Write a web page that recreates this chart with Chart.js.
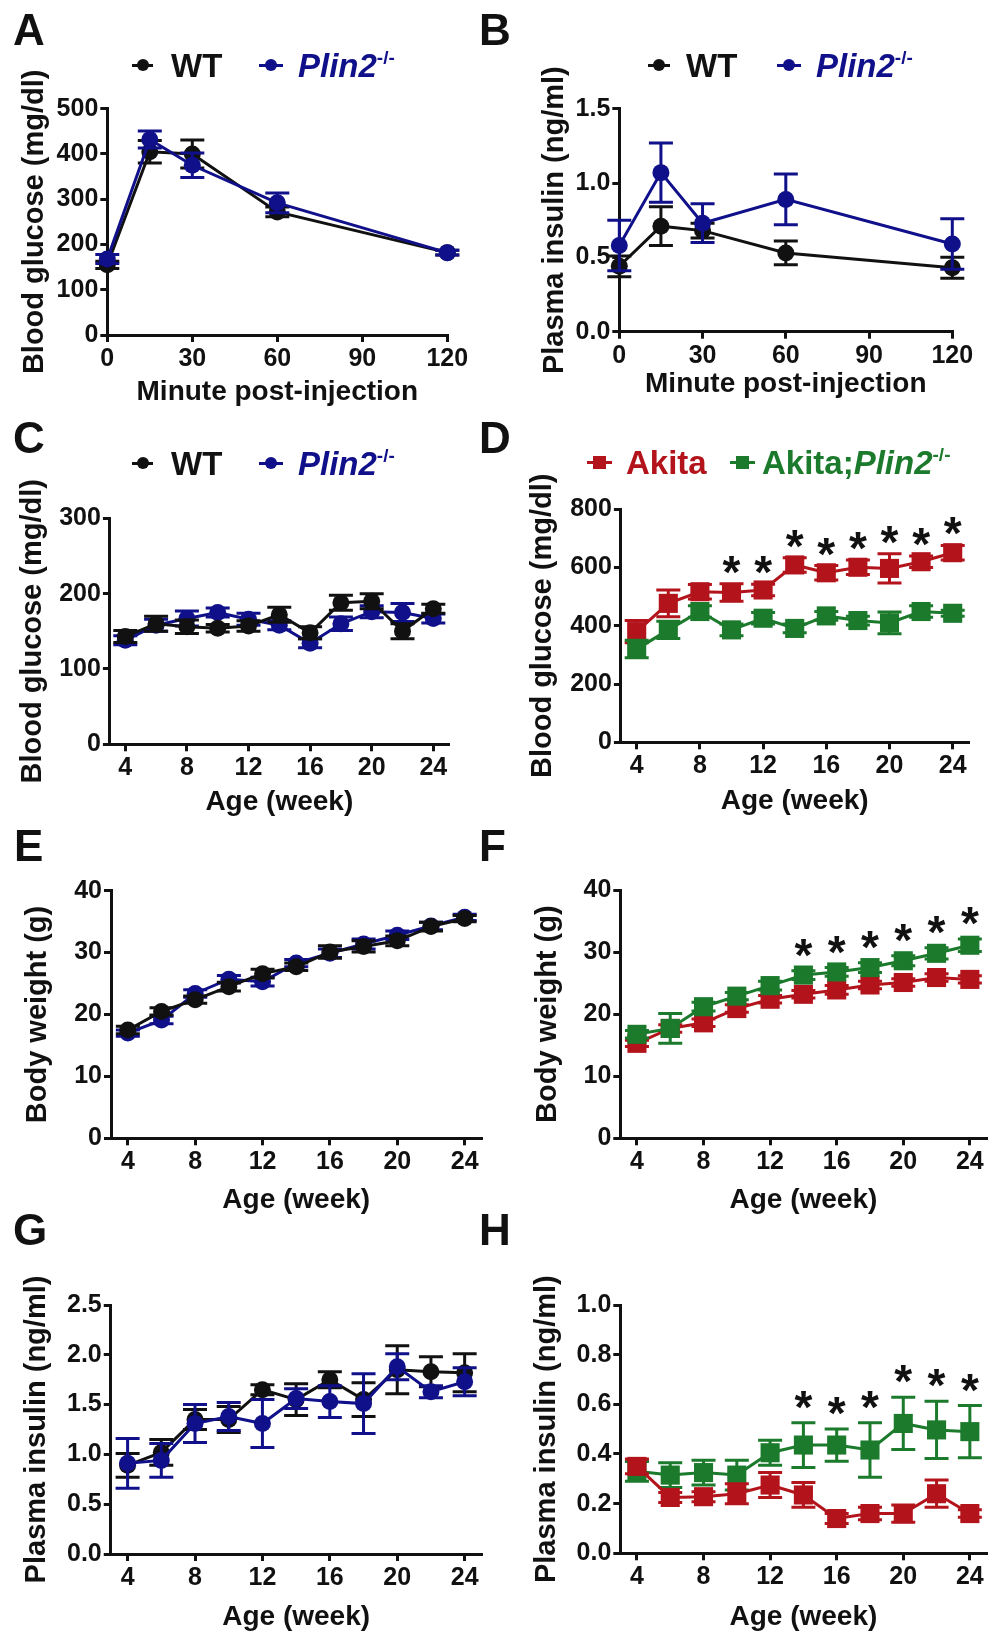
<!DOCTYPE html>
<html>
<head>
<meta charset="utf-8">
<script src="https://cdn.jsdelivr.net/npm/chart.js@4.4.1/dist/chart.umd.min.js"></script>
<style>
  body { margin: 0; background: #fff; }
  #fig { position: relative; width: 1000px; height: 1633px; overflow: hidden;
         font-family: "Liberation Sans", Arial, sans-serif; font-weight: bold; color: #111; }
  canvas { position: absolute; }
  .tag { position: absolute; font-size: 44px; line-height: 44px; }
  .lg { position: absolute; font-size: 33px; line-height: 32px; white-space: nowrap; }
  .lg sup { font-size: 19px; vertical-align: 13px; line-height: 0; }
  .mk { position: absolute; height: 3px; margin-top: -1.5px; background: var(--c); }
  .mk::after { content: ''; position: absolute; left: calc(50% - 6px); top: -4.5px;
               width: 12px; height: 12px; border-radius: 50%; background: var(--c); }
  .mk.sq::after { border-radius: 0; width: 13px; height: 13px; left: calc(50% - 6.5px); top: -5px; }
</style>
</head>
<body>
<div id="fig">
  <canvas id="cA"></canvas><canvas id="cB"></canvas>
  <canvas id="cC"></canvas><canvas id="cD"></canvas>
  <canvas id="cE"></canvas><canvas id="cF"></canvas>
  <canvas id="cG"></canvas><canvas id="cH"></canvas>

  <div class="tag" style="left:13px;top:8px">A</div>
  <div class="tag" style="left:479px;top:8px">B</div>
  <div class="tag" style="left:13px;top:416px">C</div>
  <div class="tag" style="left:479px;top:416px">D</div>
  <div class="tag" style="left:14px;top:824px">E</div>
  <div class="tag" style="left:479px;top:824px">F</div>
  <div class="tag" style="left:13px;top:1208px">G</div>
  <div class="tag" style="left:479px;top:1208px">H</div>

  <!-- legends A, B, C -->
  <div class="mk" style="left:132px;width:21px;top:65px;--c:#111"></div>
  <div class="lg" style="left:171px;top:50px">WT</div>
  <div class="mk" style="left:259px;width:24px;top:65px;--c:#10108a"></div>
  <div class="lg" style="left:298px;top:50px;color:#10108a"><i>Plin2</i><sup>-/-</sup></div>

  <div class="mk" style="left:648px;width:22px;top:65px;--c:#111"></div>
  <div class="lg" style="left:686px;top:50px">WT</div>
  <div class="mk" style="left:777px;width:24px;top:65px;--c:#10108a"></div>
  <div class="lg" style="left:816px;top:50px;color:#10108a"><i>Plin2</i><sup>-/-</sup></div>

  <div class="mk" style="left:132px;width:21px;top:463px;--c:#111"></div>
  <div class="lg" style="left:171px;top:448px">WT</div>
  <div class="mk" style="left:259px;width:24px;top:463px;--c:#10108a"></div>
  <div class="lg" style="left:298px;top:448px;color:#10108a"><i>Plin2</i><sup>-/-</sup></div>

  <!-- legend D -->
  <div class="mk sq" style="left:587px;width:25px;top:462px;--c:#b3141c"></div>
  <div class="lg" style="left:626px;top:447px;color:#b3141c">Akita</div>
  <div class="mk sq" style="left:730px;width:25px;top:462px;--c:#1b7a2b"></div>
  <div class="lg" style="left:762px;top:447px;color:#1b7a2b">Akita;<i>Plin2</i><sup>-/-</sup></div>
</div>

<script>
// x values
const minutes = [0, 15, 30, 60, 120];
const weeks = [4, 6, 8, 10, 12, 14, 16, 18, 20, 22, 24];

// tick labels
const minuteTicks = [0, 30, 60, 90, 120];
const weekTicks = [4, 8, 12, 16, 20, 24];
const aTicks = [0, 100, 200, 300, 400, 500];
const bTicks = [0, 0.5, 1.0, 1.5];
const cTicks = [0, 100, 200, 300];
const dTicks = [0, 200, 400, 600, 800];
const efTicks = [0, 10, 20, 30, 40];
const gTicks = [0, 0.5, 1.0, 1.5, 2.0, 2.5];
const hTicks = [0, 0.2, 0.4, 0.6, 0.8, 1.0];

// A: blood glucose, glucose tolerance test
const aWT = [155, 405, 400, 272, 182];
const aWTErr = [8, 25, 31, 11, 5];
const aKO = [168, 432, 375, 292, 182];
const aKOErr = [10, 19, 27, 22, 5];

// B: plasma insulin after injection
const bWT = [0.44, 0.71, 0.68, 0.53, 0.43];
const bWTErr = [0.07, 0.13, 0.05, 0.08, 0.07];
const bKO = [0.58, 1.07, 0.73, 0.89, 0.59];
const bKOErr = [0.17, 0.2, 0.13, 0.17, 0.17];

// C: blood glucose by age
const cWT = [143, 160, 156, 154, 157, 172, 148, 188, 190, 150, 180];
const cWTErr = [8, 10, 9, 5, 7, 10, 8, 10, 10, 10, 6];
const cKO = [138, 158, 167, 175, 166, 158, 134, 160, 176, 175, 167];
const cKOErr = [6, 8, 10, 6, 8, 6, 6, 9, 8, 12, 6];

// D: blood glucose, Akita lines
const dAk = [380, 477, 517, 514, 523, 609, 582, 601, 597, 620, 651];
const dAkErr = [38, 46, 25, 30, 20, 25, 25, 25, 50, 20, 25];
const dDbl = [320, 386, 449, 386, 426, 391, 434, 418, 410, 449, 443];
const dDblErr = [30, 30, 20, 20, 20, 15, 15, 15, 37, 20, 10];
const dStars = [10, 12, 14, 16, 18, 20, 22, 24];

// E: body weight
const eWT = [17.5, 20.5, 22.4, 24.5, 26.6, 27.7, 30.1, 31.0, 31.9, 34.2, 35.5];
const eWTErr = [0.6, 0.6, 0.6, 0.7, 0.7, 0.6, 1.0, 0.9, 0.8, 0.7, 0.5];
const eKO = [17.0, 19.1, 23.4, 25.7, 25.3, 28.3, 29.9, 31.4, 32.8, 34.3, 35.7];
const eKOErr = [0.5, 0.6, 0.6, 0.6, 0.7, 0.6, 0.7, 0.8, 0.7, 0.6, 0.5];

// F: body weight, Akita lines
const fAk = [15.3, 17.7, 18.6, 20.9, 22.4, 23.2, 23.9, 24.7, 25.1, 25.9, 25.6];
const fAkErr = [0.5, 0.6, 0.6, 0.6, 0.6, 0.6, 0.7, 0.6, 0.6, 0.6, 0.6];
const fDbl = [16.75, 17.7, 21.2, 22.9, 24.6, 26.3, 26.8, 27.5, 28.6, 29.8, 31.1];
const fDblErr = [0.6, 2.4, 0.7, 0.6, 0.7, 0.7, 0.7, 0.8, 0.8, 0.9, 1.0];
const fStars = [14, 16, 18, 20, 22, 24];

// G: plasma insulin by age
const gWT = [0.89, 1.02, 1.35, 1.35, 1.65, 1.55, 1.75, 1.55, 1.85, 1.83, 1.82];
const gWTErr = [0.12, 0.13, 0.1, 0.13, 0.05, 0.16, 0.08, 0.17, 0.24, 0.15, 0.19];
const gKO = [0.91, 0.94, 1.31, 1.38, 1.31, 1.56, 1.53, 1.51, 1.88, 1.63, 1.73];
const gKOErr = [0.25, 0.17, 0.19, 0.14, 0.24, 0.1, 0.16, 0.3, 0.13, 0.06, 0.14];

// H: plasma insulin, Akita lines
const hAk = [0.35, 0.225, 0.228, 0.24, 0.275, 0.235, 0.14, 0.16, 0.16, 0.24, 0.16];
const hAkErr = [0.03, 0.02, 0.02, 0.04, 0.05, 0.05, 0.02, 0.025, 0.035, 0.055, 0.015];
const hDbl = [0.33, 0.315, 0.325, 0.315, 0.405, 0.436, 0.436, 0.416, 0.523, 0.497, 0.49];
const hDblErr = [0.04, 0.05, 0.05, 0.06, 0.05, 0.09, 0.065, 0.11, 0.105, 0.115, 0.105];
const hStars = [14, 16, 18, 20, 22, 24];

const BLACK = '#111111', BLUE = '#10108a', RED = '#b3141c', GREEN = '#1b7a2b';

Chart.defaults.font.family = '"Liberation Sans", Arial, sans-serif';
Chart.defaults.font.weight = 'bold';
Chart.defaults.color = '#111';

// draws the +/- error bars right after each dataset
const errorBars = {
    id: 'errorBars',
    afterDatasetDraw(chart, args) {
        const ds = chart.data.datasets[args.index];
        if (!ds.err) return;
        const ctx = chart.ctx, ys = chart.scales.y;
        ctx.save();
        ctx.strokeStyle = ds.borderColor;
        ctx.lineWidth = 3;
        args.meta.data.forEach((pt, i) => {
            const v = ds.data[i].y, e = ds.err[i];
            const t = ys.getPixelForValue(v + e), b = ys.getPixelForValue(v - e);
            ctx.beginPath();
            ctx.moveTo(pt.x, t); ctx.lineTo(pt.x, b);
            ctx.moveTo(pt.x - 12, t); ctx.lineTo(pt.x + 12, t);
            ctx.moveTo(pt.x - 12, b); ctx.lineTo(pt.x + 12, b);
            ctx.stroke();
        });
        ctx.restore();
    }
};

function series(label, y, err, color, shape, order) {
    return { label, y, err, color, shape, order };
}

function makeChart(id, box, area, xOpt, yOpt, list, stars, starGap) {
    const cv = document.getElementById(id);
    cv.width = box.w; cv.height = box.h;
    cv.style.left = box.x + 'px'; cv.style.top = box.y + 'px';

    const yW = area.left - box.x;
    const xH = xOpt.titleMid - area.bottom + 14;
    const axisLine = { display: true, color: BLACK, width: 3 };
    const tickGrid = { display: true, drawOnChartArea: false, drawTicks: true, tickLength: 7, color: BLACK, lineWidth: 3 };

    const starPlugin = {
        id: 'stars',
        afterDraw(chart) {
            if (!stars) return;
            const ctx = chart.ctx, xs = chart.scales.x, ys = chart.scales.y;
            ctx.save();
            ctx.fillStyle = BLACK;
            ctx.font = 'bold 46px "Liberation Sans", Arial, sans-serif';
            ctx.textAlign = 'center';
            ctx.textBaseline = 'alphabetic';
            stars.forEach(w => {
                let top = Infinity;
                chart.data.datasets.forEach(ds => {
                    const i = ds.data.findIndex(p => p.x === w);
                    if (i >= 0) top = Math.min(top, ys.getPixelForValue(ds.data[i].y + ds.err[i]));
                });
                ctx.fillText('*', xs.getPixelForValue(w), top - starGap + 26);
            });
            ctx.restore();
        }
    };

    new Chart(cv, {
        type: 'line',
        data: {
            datasets: list.map(s => ({
                label: s.label,
                data: xOpt.values.map((v, i) => ({ x: v, y: s.y[i] })),
                err: s.err,
                borderColor: s.color,
                backgroundColor: s.color,
                pointBackgroundColor: s.color,
                pointBorderColor: s.color,
                pointStyle: s.shape,
                pointRadius: s.shape === 'rect' ? 13.5 : 8.5,
                pointBorderWidth: 0,
                borderWidth: 3,
                tension: 0,
                order: s.order,
                clip: false
            }))
        },
        options: {
            responsive: false,
            animation: false,
            events: [],
            layout: {
                padding: {
                    left: 0,
                    top: area.top - box.y,
                    right: box.x + box.w - area.right,
                    bottom: box.y + box.h - area.bottom - xH
                }
            },
            plugins: { legend: { display: false }, tooltip: { enabled: false } },
            scales: {
                x: {
                    type: 'linear',
                    min: xOpt.min, max: xOpt.max,
                    afterBuildTicks: s => { s.ticks = xOpt.ticks.map(v => ({ value: v })); },
                    afterFit: s => { s.height = xH; },
                    border: axisLine,
                    grid: tickGrid,
                    ticks: { font: { size: 25, weight: 'bold' }, color: BLACK, padding: 2, autoSkip: false, maxRotation: 0 },
                    title: { display: true, text: xOpt.title, font: { size: 28, weight: 'bold', lineHeight: 1 }, color: BLACK, padding: 0 }
                },
                y: {
                    type: 'linear',
                    min: yOpt.ticks[0], max: yOpt.ticks[yOpt.ticks.length - 1],
                    afterBuildTicks: s => { s.ticks = yOpt.ticks.map(v => ({ value: v })); },
                    afterFit: s => { s.width = yW; },
                    border: axisLine,
                    grid: tickGrid,
                    ticks: {
                        font: { size: 25, weight: 'bold' }, color: BLACK, padding: 2,
                        callback: v => yOpt.decimals ? v.toFixed(yOpt.decimals) : String(v)
                    },
                    title: { display: true, text: yOpt.title, font: { size: 29, weight: 'bold', lineHeight: 1 }, color: BLACK,
                             padding: { top: yOpt.titleX - box.x - 14.5, bottom: 0 } }
                }
            }
        },
        plugins: [errorBars, starPlugin]
    });
}

const minuteAxis = titleMid => ({ values: minutes, ticks: minuteTicks, min: 0, max: 120, title: 'Minute post-injection', titleMid });
const weekAxis = titleMid => ({ values: weeks, ticks: weekTicks, min: 3, max: 25, title: 'Age (week)', titleMid });

makeChart('cA', { x: 0, y: 0, w: 490, h: 410 }, { left: 107.3, top: 108.7, right: 447.3, bottom: 335 },
    minuteAxis(392.6),
    { ticks: aTicks, title: 'Blood glucose (mg/dl)', titleX: 35 },
    [series('WT', aWT, aWTErr, BLACK, 'circle', 1), series('Plin2-/-', aKO, aKOErr, BLUE, 'circle', 0)]);

makeChart('cB', { x: 490, y: 0, w: 510, h: 410 }, { left: 619.3, top: 108.7, right: 952.3, bottom: 331.7 },
    minuteAxis(384),
    { ticks: bTicks, decimals: 1, title: 'Plasma insulin (ng/ml)', titleX: 555 },
    [series('WT', bWT, bWTErr, BLACK, 'circle', 1), series('Plin2-/-', bKO, bKOErr, BLUE, 'circle', 0)]);

makeChart('cC', { x: 0, y: 410, w: 490, h: 410 }, { left: 109.9, top: 518.3, right: 448.7, bottom: 744.3 },
    weekAxis(802),
    { ticks: cTicks, title: 'Blood glucose (mg/dl)', titleX: 33 },
    [series('WT', cWT, cWTErr, BLACK, 'circle', 0), series('Plin2-/-', cKO, cKOErr, BLUE, 'circle', 1)]);

makeChart('cD', { x: 490, y: 410, w: 510, h: 410 }, { left: 620.9, top: 509.3, right: 968.5, bottom: 742.3 },
    weekAxis(801),
    { ticks: dTicks, title: 'Blood glucose (mg/dl)', titleX: 543 },
    [series('Akita', dAk, dAkErr, RED, 'rect', 1), series('Akita;Plin2-/-', dDbl, dDblErr, GREEN, 'rect', 0)],
    dStars, 22);

makeChart('cE', { x: 0, y: 820, w: 490, h: 400 }, { left: 111, top: 890.7, right: 484, bottom: 1138.3 },
    weekAxis(1200),
    { ticks: efTicks, title: 'Body weight (g)', titleX: 38 },
    [series('WT', eWT, eWTErr, BLACK, 'circle', 0), series('Plin2-/-', eKO, eKOErr, BLUE, 'circle', 1)]);

makeChart('cF', { x: 490, y: 820, w: 510, h: 400 }, { left: 620.3, top: 890, right: 993.7, bottom: 1138.3 },
    weekAxis(1200),
    { ticks: efTicks, title: 'Body weight (g)', titleX: 548 },
    [series('Akita', fAk, fAkErr, RED, 'rect', 1), series('Akita;Plin2-/-', fDbl, fDblErr, GREEN, 'rect', 0)],
    fStars, 26);

makeChart('cG', { x: 0, y: 1220, w: 490, h: 413 }, { left: 110.75, top: 1305, right: 483.65, bottom: 1554 },
    weekAxis(1617),
    { ticks: gTicks, decimals: 1, title: 'Plasma insulin (ng/ml)', titleX: 37 },
    [series('WT', gWT, gWTErr, BLACK, 'circle', 1), series('Plin2-/-', gKO, gKOErr, BLUE, 'circle', 0)]);

makeChart('cH', { x: 490, y: 1220, w: 510, h: 413 }, { left: 620.3, top: 1305, right: 994.3, bottom: 1553.3 },
    weekAxis(1617),
    { ticks: hTicks, decimals: 1, title: 'Plasma insulin (ng/ml)', titleX: 547 },
    [series('Akita', hAk, hAkErr, RED, 'rect', 0), series('Akita;Plin2-/-', hDbl, hDblErr, GREEN, 'rect', 1)],
    hStars, 26);
</script>
</body>
</html>
